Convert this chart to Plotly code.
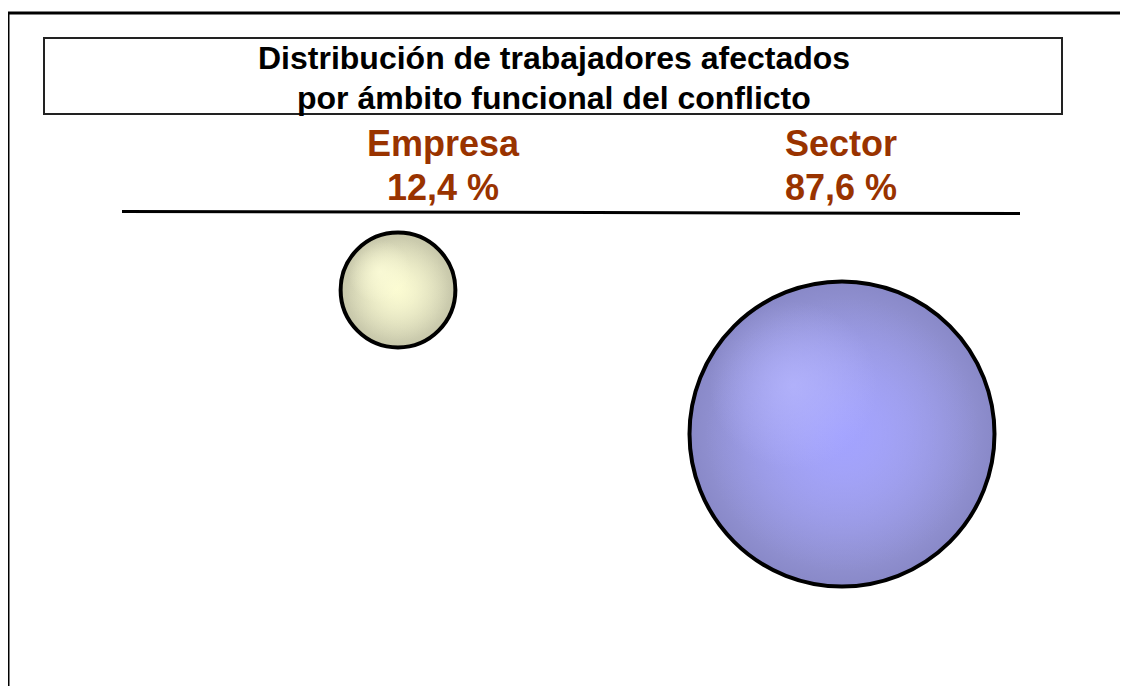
import math
import plotly.graph_objects as go

# ---- data ----
categories = ["Empresa", "Sector"]
values = [12.4, 87.6]          # % of affected workers
title_lines = ["Distribución de trabajadores afectados",
               "por ámbito funcional del conflicto"]

# ---- layout constants (page pixels) ----
W, H = 1128, 686
OFF = 8  # browser body margin
label_x = [443, 841]
circle_cx = [398, 842]
circle_cy = [290, 434]
D_MAX = 305
edge_cols = ["#aeae84", "#5656b0"]
mid_cols = ["#f6f6c8", "#9999ff"]
glow_cols = ["rgba(252,252,206,1)", "rgba(153,153,255,1)"]
glow_clear = ["rgba(252,252,206,0)", "rgba(153,153,255,0)"]
hi_cols = ["rgba(255,255,218,1)", "rgba(184,184,255,1)"]
hi_clear = ["rgba(255,255,218,0)", "rgba(184,184,255,0)"]
label_color = "#993300"
FONT = "Liberation Sans, Arial, sans-serif"

vmax = max(values)
diam = [D_MAX * math.sqrt(v / vmax) for v in values]

fig = go.Figure()

# base sphere
fig.add_trace(go.Scatter(
    x=circle_cx, y=circle_cy, mode="markers", hoverinfo="skip",
    marker=dict(size=diam, sizemode="diameter", color=edge_cols,
                gradient=dict(type="radial", color=mid_cols),
                line=dict(width=0)),
    showlegend=False))
# inner glow
fig.add_trace(go.Scatter(
    x=circle_cx, y=circle_cy, mode="markers", hoverinfo="skip",
    marker=dict(size=[d * 0.9 for d in diam], sizemode="diameter",
                color=glow_clear,
                gradient=dict(type="radial", color=glow_cols),
                line=dict(width=0)),
    showlegend=False))
# off-centre highlight
off = [0.16 * d for d in diam]
fig.add_trace(go.Scatter(
    x=[cx - o for cx, o in zip(circle_cx, off)],
    y=[cy - o for cy, o in zip(circle_cy, off)],
    mode="markers", hoverinfo="skip",
    marker=dict(size=[d * 0.55 for d in diam], sizemode="diameter",
                color=hi_clear,
                gradient=dict(type="radial", color=hi_cols),
                line=dict(width=0)),
    showlegend=False))
# outline
fig.add_trace(go.Scatter(
    x=circle_cx, y=circle_cy, mode="markers", hoverinfo="skip",
    marker=dict(size=diam, sizemode="diameter", color="rgba(0,0,0,0)",
                opacity=1, line=dict(width=4, color="#000000")),
    showlegend=False))

shapes = [
    # outer frame (top and left visible)
    dict(type="path", path=f"M 8 {H + OFF} L 8 13 L {W + OFF} 13",
         line=dict(color="black", width=3), xref="x", yref="y"),
    # title box
    dict(type="rect", x0=44, x1=1062, y0=38, y1=114,
         line=dict(color="#222", width=2), xref="x", yref="y"),
    # separator line
    dict(type="line", x0=122, x1=1020, y0=211.5, y1=213.5,
         line=dict(color="black", width=3), xref="x", yref="y"),
]

annotations = [
    dict(x=554, y=58, text=title_lines[0], showarrow=False,
         font=dict(family=FONT, size=32, color="black", weight="bold"),
         xref="x", yref="y"),
    dict(x=554, y=98, text=title_lines[1], showarrow=False,
         font=dict(family=FONT, size=32, color="black", weight="bold"),
         xref="x", yref="y"),
]
for lx, cat, v in zip(label_x, categories, values):
    annotations.append(dict(x=lx, y=143, text=cat, showarrow=False,
                            font=dict(family=FONT, size=36, color=label_color, weight="bold"),
                            xref="x", yref="y"))
    annotations.append(dict(x=lx, y=187, text=f"{v:.1f}".replace(".", ",") + " %",
                            showarrow=False,
                            font=dict(family=FONT, size=36, color=label_color, weight="bold"),
                            xref="x", yref="y"))

fig.update_layout(
    width=W, height=H, margin=dict(l=0, r=0, t=0, b=0),
    paper_bgcolor="white", plot_bgcolor="white",
    xaxis=dict(range=[OFF, W + OFF], visible=False, fixedrange=True),
    yaxis=dict(range=[H + OFF, OFF], visible=False, fixedrange=True),
    shapes=shapes, annotations=annotations,
)
fig.write_html("out.html")
